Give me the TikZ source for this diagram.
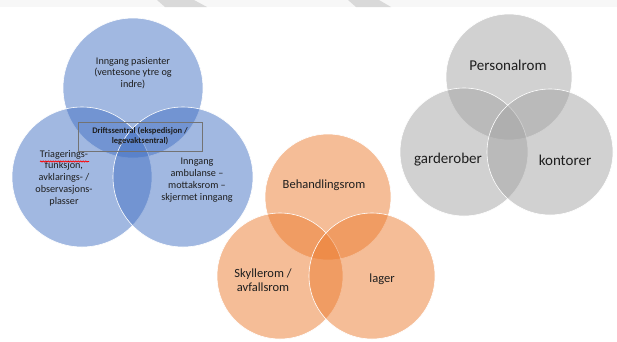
\documentclass[tikz,border=0pt]{standalone}
\usepackage{fontspec}
\setmainfont{Carlito}
\usetikzlibrary{decorations.pathmorphing}
\definecolor{vennblue}{RGB}{68,114,196}
\definecolor{vennorange}{RGB}{237,125,49}
\definecolor{venngray}{RGB}{165,165,165}
\definecolor{labeltext}{RGB}{30,30,30}

\begin{document}
\begin{tikzpicture}[x=1pt,y=-1pt,inner sep=0pt,
                    every node/.style={align=center,text=labeltext}]
  \tikzstyle{venn}=[circle,draw=white,line width=0.6pt,fill opacity=0.5,
                    text opacity=1]
  \tikzstyle{bluelabel}=[font=\fontsize{10.2}{11.8}\selectfont]
  \tikzstyle{orangelabel}=[font=\fontsize{12.5}{14.5}\selectfont]
  \tikzstyle{graylabel}=[font=\fontsize{15}{17}\selectfont]
  \useasboundingbox (0,0) rectangle (617,341);
  \fill[white] (0,0) rectangle (617,341);

  % strip along the top edge
  \fill[black!3] (0,0) rectangle (617,7);
  \fill[black!15] (157,0) -- (194,0) -- (207,7) -- (165,7) -- cycle;
  \fill[black!15] (348,0) -- (379,0) -- (391,7) -- (356,7) -- cycle;

  % blue circles
  \node[venn,fill=vennblue,minimum size=140] (Btop)   at (133,88)  {};
  \node[venn,fill=vennblue,minimum size=140] (Bleft)  at (82,177)  {};
  \node[venn,fill=vennblue,minimum size=140] (Bright) at (183,177) {};

  % orange circles
  \node[venn,fill=vennorange,minimum size=126] (Otop)   at (328,197) {};
  \node[venn,fill=vennorange,minimum size=126] (Oleft)  at (280,276) {};
  \node[venn,fill=vennorange,minimum size=126] (Oright) at (372,276) {};

  % gray circles
  \node[venn,fill=venngray,minimum size=126] (Gtop)   at (509,77)  {};
  \node[venn,fill=venngray,minimum size=128] (Gleft)  at (464,152) {};
  \node[venn,fill=venngray,minimum size=126] (Gright) at (550,152) {};

  % labels
  \node[bluelabel] (entry) at (133,73)
    {Inngang pasienter\\(ventesone ytre og\\indre)};
  \node[bluelabel] (triage) at (64,178)
    {Triagerings-\\funksjon,\\avklarings- /\\observasjons-\\plasser};
  \node[bluelabel] (ambulance) at (197,180)
    {Inngang\\ambulanse –\\mottaksrom –\\skjermet inngang};
  \node[draw=black!55,line width=0.5pt,minimum width=124,minimum height=29,
        font=\bfseries\fontsize{8.5}{10}\selectfont] (central) at (140,136.5)
    {Driftssentral (ekspedisjon /\\legevaktsentral)};

  \node[orangelabel] (treat) at (324,185) {Behandlingsrom};
  \node[orangelabel] (waste) at (263,280) {Skyllerom /\\avfallsrom};
  \node[orangelabel] (store) at (382,279) {lager};

  \node[graylabel] (staff)    at (508,65)  {Personalrom};
  \node[graylabel] (wardrobe) at (448,160) {garderober};
  \node[graylabel] (offices)  at (565,160) {kontorer};

  % spell-check mark under the first word
  \coordinate (sqa) at (40,161.5);
  \coordinate (sqb) at (89,161.5);
  \draw[red,line width=0.8pt,decorate,
        decoration={snake,amplitude=0.5pt,segment length=2.5pt}] (sqa) -- (sqb);
\end{tikzpicture}
\end{document}
